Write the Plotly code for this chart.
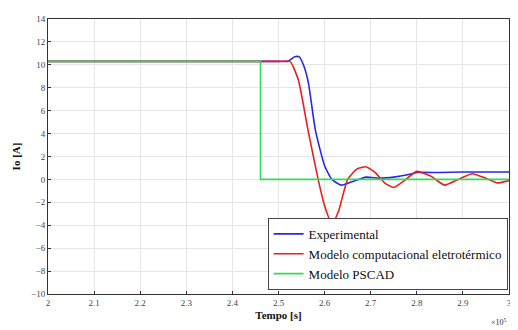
import plotly.graph_objects as go

t_exp = [2.0, 2.2, 2.4, 2.5, 2.52, 2.535, 2.545, 2.555, 2.565, 2.58, 2.60, 2.616, 2.636, 2.66, 2.69, 2.72, 2.75, 2.78, 2.80, 2.85, 2.90, 2.95, 3.0]
v_exp = [10.3, 10.3, 10.3, 10.3, 10.3, 10.7, 10.7, 9.9, 8.4, 4.3, 1.2, 0.0, -0.5, -0.2, 0.2, 0.1, 0.2, 0.4, 0.6, 0.6, 0.65, 0.65, 0.65]

t_mod = [2.0, 2.2, 2.4, 2.5, 2.525, 2.543, 2.565, 2.586, 2.60, 2.616, 2.63, 2.65, 2.67, 2.69, 2.71, 2.73, 2.75, 2.77, 2.80, 2.83, 2.86, 2.89, 2.92, 2.95, 2.975, 3.0]
v_mod = [10.3, 10.3, 10.3, 10.3, 10.3, 8.7, 4.1, 0.0, -2.3, -3.9, -2.8, 0.0, 0.9, 1.1, 0.6, -0.3, -0.7, -0.2, 0.7, 0.3, -0.5, 0.0, 0.5, 0.1, -0.3, -0.1]

t_psc = [2.0, 2.461, 2.461, 3.0]
v_psc = [10.3, 10.3, 0.0, 0.0]

x_ticks = [2, 2.1, 2.2, 2.3, 2.4, 2.5, 2.6, 2.7, 2.8, 2.9, 3]
x_tick_labels = ["2", "2.1", "2.2", "2.3", "2.4", "2.5", "2.6", "2.7", "2.8", "2.9", "3"]
y_ticks = list(range(-10, 15, 2))

font = "Liberation Serif, Times New Roman, serif"

fig = go.Figure()
fig.add_trace(go.Scatter(x=t_exp, y=v_exp, mode="lines", name="Experimental",
                         line=dict(color="rgb(40,40,230)", width=1.6, shape="spline", smoothing=0.5)))
fig.add_trace(go.Scatter(x=t_mod, y=v_mod, mode="lines", name="Modelo computacional eletrotérmico",
                         line=dict(color="rgb(235,30,30)", width=1.6, shape="spline", smoothing=0.5)))
fig.add_trace(go.Scatter(x=t_psc, y=v_psc, mode="lines", name="Modelo PSCAD",
                         line=dict(color="rgb(50,220,90)", width=1.6)))

fig.update_layout(
    width=510, height=322,
    margin=dict(l=40, r=6, t=7, b=36),
    paper_bgcolor="white", plot_bgcolor="white",
    font=dict(family=font, size=9, color="#444"),
    showlegend=True,
    legend=dict(x=0.997, y=0.015, xanchor="right", yanchor="bottom",
                bgcolor="white", bordercolor="#444", borderwidth=1,
                font=dict(family=font, size=13, color="#111"),
                tracegroupgap=0, itemwidth=30),
    xaxis=dict(range=[2, 3], tickvals=x_ticks, ticktext=x_tick_labels,
               showgrid=True, gridcolor="#e6e6e6", zeroline=False,
               showline=True, linecolor="#333", mirror=True,
               ticks="inside", ticklen=3, tickcolor="#333",
               title=dict(text="<b>Tempo [s]</b>", standoff=4, font=dict(family=font, size=11, color="#111"))),
    yaxis=dict(range=[-10, 14], tickvals=y_ticks,
               showgrid=True, gridcolor="#e6e6e6", zeroline=False,
               showline=True, linecolor="#333", mirror=True,
               ticks="inside", ticklen=3, tickcolor="#333",
               title=dict(text="<b>Io [A]</b>", standoff=8, font=dict(family=font, size=11, color="#111"))),
)
fig.add_annotation(x=1.0, y=0, xref="paper", yref="paper", xanchor="right", yanchor="top",
                   yshift=-21, text="×10<sup>5</sup>", showarrow=False,
                   font=dict(family=font, size=8, color="#333"))

fig.write_html("out.html")
